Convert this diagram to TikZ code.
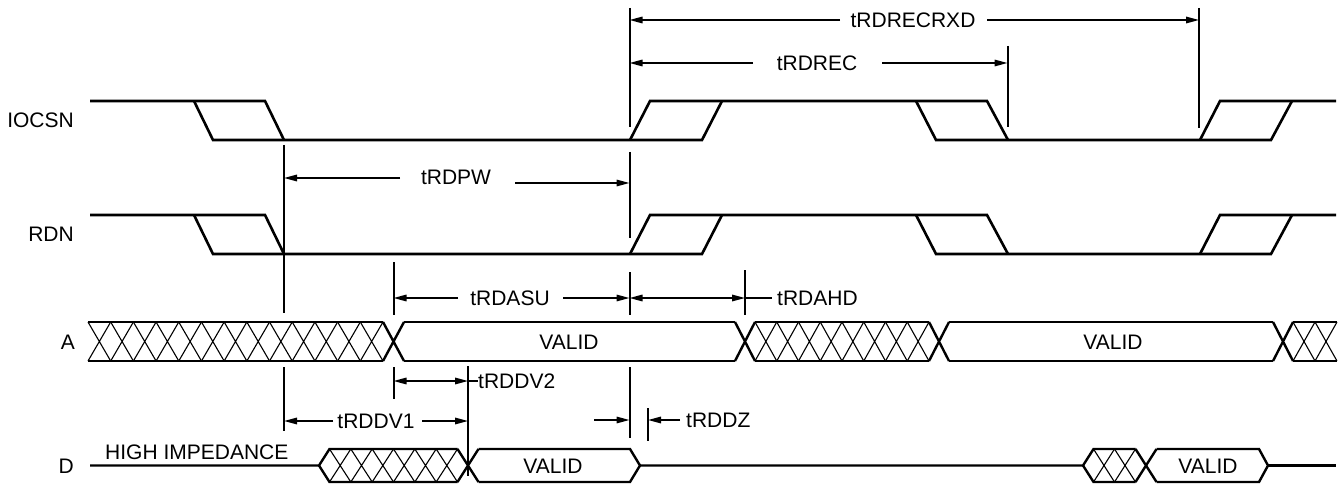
\documentclass[tikz,border=0pt]{standalone}
\usepackage{fontspec}
\setmainfont{Liberation Sans}
\usetikzlibrary{arrows.meta}
\newcommand{\myhatch}[5]{% x1 x2 n top bot
  \pgfmathsetmacro{\hw}{(#2-#1)/#3}%
  \foreach \i in {1,...,#3}{%
    \pgfmathsetmacro{\ha}{#1+(\i-1)*\hw}%
    \pgfmathsetmacro{\hb}{#1+\i*\hw}%
    \draw[hatchline] (\ha,#4) -- (\hb,#5) (\ha,#5) -- (\hb,#4);
  }}
\newcommand{\mytrans}[4]{% c h top bot
  \draw[busline] ({#1-#2},#3) -- ({#1+#2},#4) ({#1-#2},#4) -- ({#1+#2},#3);}
\begin{document}
\begin{tikzpicture}[x=1pt,y=-1pt,
  wave/.style={line width=2.6pt, line join=miter},
  busline/.style={line width=2.4pt, line join=miter},
  hatchline/.style={line width=1.1pt},
  marker/.style={line width=2pt},
  dim/.style={line width=1.6pt},
  tip/.style={-{Triangle[length=13pt,width=6.5pt]}},
  tips/.style={{Triangle[length=13pt,width=6.5pt]}-{Triangle[length=13pt,width=6.5pt]}},
  lbl/.style={inner sep=0pt, font=\fontsize{21}{25}\selectfont}]
\useasboundingbox (0,0) rectangle (1343,489);

% ---------- signal names ----------
\node[lbl, anchor=east] (nIOCSN) at (74,120) {IOCSN};
\node[lbl, anchor=east] (nRDN) at (74,234) {RDN};
\node[lbl, anchor=east] (nA) at (75,342) {A};
\node[lbl, anchor=east] (nD) at (74,466) {D};

% ---------- IOCSN ----------
\draw[wave] (90,101) -- (265,101) -- (284,140);
\draw[wave] (194,101) -- (213,140) -- (702,140) -- (722,101);
\draw[wave] (630,140) -- (650,101) -- (987,101) -- (1008,140);
\draw[wave] (916,101) -- (936,140) -- (1271,140) -- (1292,101);
\draw[wave] (1200,140) -- (1220,101) -- (1336,101);

% ---------- RDN ----------
\draw[wave] (90,215) -- (265,215) -- (284,254);
\draw[wave] (194,215) -- (213,254) -- (702,254) -- (722,215);
\draw[wave] (630,254) -- (650,215) -- (987,215) -- (1008,254);
\draw[wave] (916,215) -- (936,254) -- (1271,254) -- (1292,215);
\draw[wave] (1200,254) -- (1220,215) -- (1336,215);

% ---------- A bus ----------
\foreach \xa/\xb in {88/383, 404/735, 755/929, 949/1273, 1293/1337}{
  \draw[busline] (\xa,322) -- (\xb,322) (\xa,361) -- (\xb,361);}
\myhatch{88}{383}{13}{322}{361}
\myhatch{755}{929}{8}{322}{361}
\myhatch{1293}{1337}{2}{322}{361}
\mytrans{393.5}{10.5}{322}{361}
\mytrans{745}{10}{322}{361}
\mytrans{939}{10}{322}{361}
\mytrans{1283}{10}{322}{361}
\node[lbl] (vA1) at (569,342) {VALID};
\node[lbl] (vA2) at (1113,342) {VALID};

% ---------- D bus ----------
\draw[busline] (90,465.5) -- (319,465.5) -- (329.5,449) -- (457.5,449);
\draw[busline] (319,465.5) -- (329.5,482) -- (457.5,482);
\myhatch{329.5}{457.5}{6}{449}{482}
\mytrans{468}{10.5}{449}{482}
\draw[busline] (478.5,449) -- (630,449) -- (640,465.5) -- (630,482) -- (478.5,482);
\draw[busline] (640,465.5) -- (1083,465.5) -- (1093.5,449) -- (1135.5,449);
\draw[busline] (1083,465.5) -- (1093.5,482) -- (1135.5,482);
\myhatch{1093.5}{1135.5}{2}{449}{482}
\mytrans{1146}{10.5}{449}{482}
\draw[busline] (1156.5,449) -- (1259,449) -- (1268,465.5) -- (1259,482) -- (1156.5,482);
\draw[busline] (1268,465.5) -- (1336,465.5);
\node[lbl, anchor=west] (hiz) at (105,452) {HIGH IMPEDANCE};
\node[lbl] (vD1) at (553,466) {VALID};
\node[lbl] (vD2) at (1208,466) {VALID};

% ---------- timing markers ----------
\draw[marker] (284,145) -- (284,313) (284,367) -- (284,431);
\draw[marker] (393.5,262) -- (393.5,315) (393.5,367) -- (393.5,399);
\draw[marker] (468,366) -- (468,476);
\draw[marker] (629.5,8) -- (629.5,127) (629.5,152) -- (629.5,238)
              (629.5,272) -- (629.5,315) (629.5,367) -- (629.5,438);
\draw[marker] (648,408) -- (648,441);
\draw[marker] (745,270) -- (745,315);
\draw[marker] (1007.5,46) -- (1007.5,127);
\draw[marker] (1199,8) -- (1199,128);

% ---------- dimension arrows ----------
\coordinate (m1) at (629.5,20);  \coordinate (m2) at (1199,20);
\node[lbl] (tRDRECRXD) at (913,20) {tRDRECRXD};
\draw[dim,tip] (840,20) -- (m1);
\draw[dim,tip] (987,20) -- (m2);

\coordinate (m3) at (629.5,63);  \coordinate (m4) at (1007.5,63);
\node[lbl] (tRDREC) at (817,63) {tRDREC};
\draw[dim,tip] (753,63) -- (m3);
\draw[dim,tip] (882,63) -- (m4);

\coordinate (m5) at (284,178);  \coordinate (m6) at (629.5,183);
\node[lbl] (tRDPW) at (456,177) {tRDPW};
\draw[dim,tip] (400,178) -- (m5);
\draw[dim,tip] (515,183) -- (m6);

\coordinate (m7) at (393.5,298);  \coordinate (m8) at (629.5,298);
\coordinate (m9) at (745,298);
\node[lbl] (tRDASU) at (510,298) {tRDASU};
\draw[dim,tip] (458,298) -- (m7);
\draw[dim,tip] (563,298) -- (m8);
\node[lbl, anchor=west] (tRDAHD) at (777,298) {tRDAHD};
\draw[dim,tips] (m8) -- (m9);
\draw[dim] (m9) -- (772,298);

\coordinate (m10) at (393.5,381);  \coordinate (m11) at (468,381);
\node[lbl, anchor=west] (tRDDV2) at (478,381) {tRDDV2};
\draw[dim,tips] (m10) -- (m11);
\draw[dim] (m11) -- (478,381);

\coordinate (m12) at (284,421);  \coordinate (m13) at (468,421);
\node[lbl] (tRDDV1) at (376,421) {tRDDV1};
\draw[dim,tip] (333,421) -- (m12);
\draw[dim,tip] (422,421) -- (m13);

\coordinate (m14) at (629.5,420);  \coordinate (m15) at (648,420);
\node[lbl, anchor=west] (tRDDZ) at (686,420) {tRDDZ};
\draw[dim,tip] (594,420) -- (m14);
\draw[dim,tip] (680,420) -- (m15);
\end{tikzpicture}
\end{document}
